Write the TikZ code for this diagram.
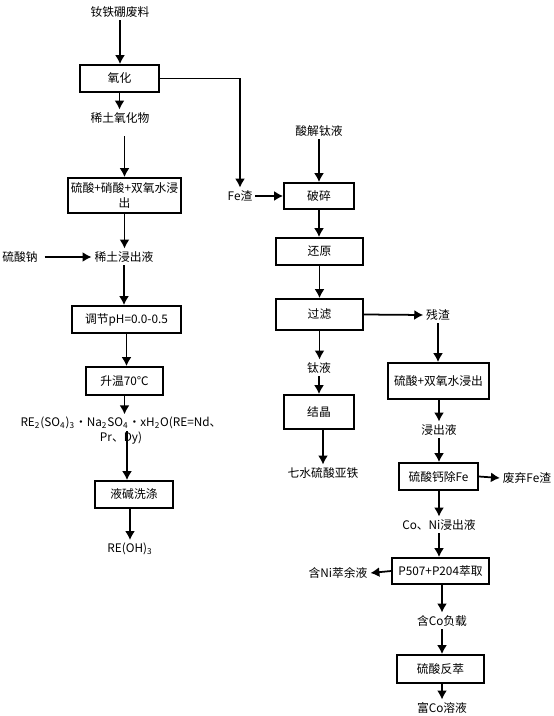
\documentclass[tikz,border=0pt]{standalone}
\usepackage{fontspec}
\setmainfont{Noto Sans CJK SC}
\usetikzlibrary{arrows.meta}

\begin{document}
\begin{tikzpicture}[x=0.2mm, y=-0.2mm]
 \tikzstyle{proc}=[rectangle, draw, line width=1pt, inner sep=0pt, align=center, font=\fontsize{6.7pt}{9pt}\selectfont]
 \tikzstyle{lbl}=[inner sep=1.5pt, align=center, font=\fontsize{6.7pt}{8.5pt}\selectfont]
 \tikzstyle{flow}=[-{Latex[length=1.8mm, width=2mm]}, line width=1pt]
 \useasboundingbox (0,0) rectangle (554,716);
 %
 \node[lbl] (src) at (120, 12) {钕铁硼废料};
 \node[proc, minimum width=15.8mm, minimum height=5.4mm] (ox) at (119.5, 78.5) {氧化};
 \node[lbl] (reo) at (120, 118) {稀土氧化物};
 \node[proc, minimum width=22.6mm, minimum height=7mm] (leach) at (124.5, 195.5) {硫酸+硝酸+双氧水浸\\出};
 \node[lbl] (na) at (20, 257) {硫酸钠};
 \node[lbl] (rel) at (124, 257) {稀土浸出液};
 \node[proc, minimum width=21.8mm, minimum height=5.4mm] (ph) at (126.5, 319.5) {调节pH=0.0-0.5};
 \node[proc, minimum width=15.4mm, minimum height=5.6mm] (heat) at (124.5, 381) {升温70℃};
 \node[lbl] (re) at (121, 431) {RE\textsubscript{2}(SO\textsubscript{4})\textsubscript{3}·Na\textsubscript{2}SO\textsubscript{4}·xH\textsubscript{2}O(RE=Nd、\\Pr、Dy)};
 \coordinate (reA) at (127, 431);
 \node[proc, minimum width=15.6mm, minimum height=5.4mm] (wash) at (134, 494.5) {液碱洗涤};
 \node[lbl] (reoh) at (130, 549) {RE(OH)\textsubscript{3}};
 %
 \node[lbl] (fe) at (240, 196) {Fe渣};
 \node[lbl] (tis) at (319, 131) {酸解钛液};
 \node[proc, minimum width=14mm, minimum height=5.2mm] (crush) at (319, 196) {破碎};
 \node[proc, minimum width=17.4mm, minimum height=5.4mm] (red) at (319.5, 251.5) {还原};
 \node[proc, minimum width=17.4mm, minimum height=6.2mm] (filt) at (319.5, 314.5) {过滤};
 \node[lbl] (tiliq) at (319, 368) {钛液};
 \node[proc, minimum width=14mm, minimum height=6.8mm] (cryst) at (319, 412) {结晶};
 \node[lbl] (fes) at (323, 473) {七水硫酸亚铁};
 %
 \node[lbl] (slag) at (438, 315) {残渣};
 \node[proc, minimum width=20.2mm, minimum height=7.2mm] (leach2) at (438.5, 381) {硫酸+双氧水浸出};
 \node[lbl] (lq) at (439, 430) {浸出液};
 \node[proc, minimum width=15.8mm, minimum height=5.4mm] (ca) at (438.5, 476.5) {硫酸钙除Fe};
 \node[lbl] (wfe) at (527, 478) {废弃Fe渣};
 \node[lbl] (coni) at (439, 525) {Co、Ni浸出液};
 \node[proc, minimum width=19.4mm, minimum height=5.2mm] (ext) at (440.5, 571) {P507+P204萃取};
 \node[lbl] (nir) at (338, 573) {含Ni萃余液};
 \node[lbl] (col) at (442, 621) {含Co负载};
 \node[proc, minimum width=17.4mm, minimum height=5.6mm] (strip) at (440.5, 669) {硫酸反萃};
 \node[lbl] (rich) at (442, 708) {富Co溶液};
 %%
 \draw[flow] (src) -- (src |- ox.north);
 \draw[flow] (ox) -- (ox |- reo.north);
 \draw[flow, shorten <=2mm] (reo.south -| leach) -- (leach.north);
 \draw[flow] (ox.east) -| (fe.north);
 \draw[flow] (leach) -- (leach |- rel.north);
 \draw[flow] (na.east) ++(4,0) -- (rel.west);
 \draw[flow] (rel) -- (rel |- ph.north);
 \draw[flow] (ph) -- (ph |- heat.north);
 \draw[flow] (heat) -- (heat |- re.north);
 \draw[flow] (reA) -- (reA |- wash.north);
 \draw[flow] (wash.south -| reoh) -- (reoh.north);
 %
 \draw[flow] (fe.east) -- (crush.west);
 \draw[flow] (tis) -- (crush.north);
 \draw[flow] (crush) -- (crush |- red.north);
 \draw[flow] (red) -- (red |- filt.north);
 \draw[flow] (filt.east) -- (slag.west);
 \draw[flow] (filt) -- (filt |- tiliq.north);
 \draw[flow] (tiliq) -- (tiliq |- cryst.north);
 \draw[flow] (cryst.south -| fes) -- (fes.north);
 %
 \draw[flow] (slag) -- (slag |- leach2.north);
 \draw[flow] (leach2.south -| lq) -- (lq.north);
 \draw[flow] (lq) -- (lq |- ca.north);
 \draw[flow] (ca.east) -- (wfe.west);
 \draw[flow] (ca.south -| coni) -- (coni.north);
 \draw[flow] (coni) -- (coni |- ext.north);
 \draw[flow] (ext.west) -- (nir.east);
 \draw[flow] (ext.south -| col) -- (col.north);
 \draw[flow] (col) -- (col |- strip.north);
 \draw[flow] (strip.south -| rich) -- (rich.north);
\end{tikzpicture}
\end{document}
